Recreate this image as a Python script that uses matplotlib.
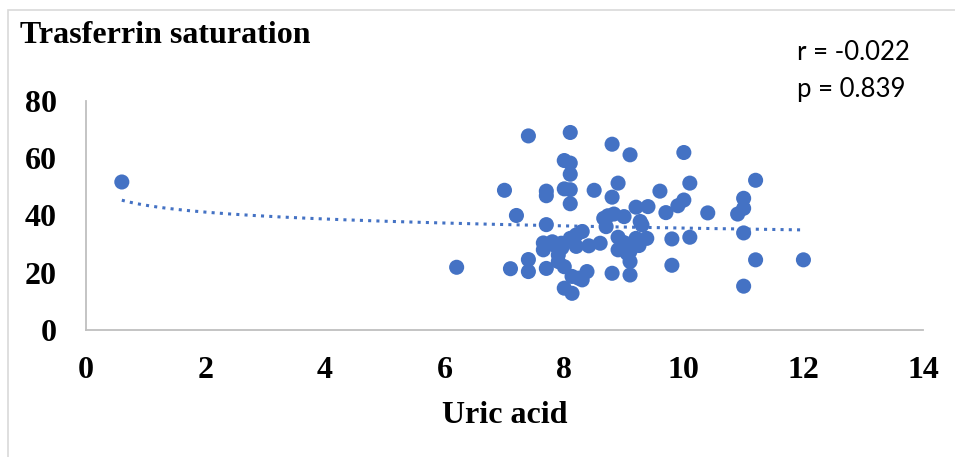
import numpy as np
import matplotlib.pyplot as plt
from matplotlib.patches import Rectangle

# Uric acid (x) vs transferrin saturation (y)
uric_acid = [
    0.6, 6.2, 7.0, 7.1, 7.2, 7.4, 7.4, 7.4, 7.65, 7.7,
    7.7, 7.7, 7.7, 7.8, 7.85, 7.65, 7.9, 7.9, 7.95, 7.96,
    8.0, 8.0, 8.0, 8.0, 8.1, 8.1, 8.1, 8.1, 8.1, 8.1,
    8.13, 8.13, 8.2, 8.2, 8.24, 8.3, 8.3, 8.38, 8.41, 8.5,
    8.6, 8.66, 8.7, 8.73, 8.8, 8.8, 8.83, 8.8, 8.9, 8.9,
    8.9, 9.0, 9.05, 9.1, 9.1, 9.1, 9.1, 9.2, 9.2, 9.27,
    9.3, 9.38, 9.4, 9.25, 9.0, 9.6, 9.7, 9.8, 9.8, 9.9,
    10.0, 10.0, 10.1, 10.1, 10.4, 10.9, 11.0, 11.0, 11.0, 11.0,
    11.2, 11.2, 12.0,
]
saturation = [
    51.7, 21.9, 48.8, 21.4, 40.0, 67.8, 24.6, 20.4, 30.4, 48.5,
    46.9, 36.8, 21.5, 30.8, 29.5, 28.0, 26.2, 23.9, 30.3, 28.7,
    59.2, 49.3, 22.1, 14.6, 69.0, 58.3, 54.4, 49.0, 44.1, 32.0,
    12.8, 18.7, 33.2, 29.2, 18.1, 34.4, 17.5, 20.4, 29.4, 48.8,
    30.3, 39.0, 36.1, 39.9, 64.9, 46.4, 40.5, 19.8, 51.3, 32.4,
    28.0, 39.6, 26.8, 61.2, 27.5, 23.9, 19.2, 42.9, 32.0, 37.9,
    36.7, 32.0, 43.1, 29.5, 30.5, 48.5, 41.0, 31.8, 22.6, 43.4,
    45.4, 62.0, 51.3, 32.4, 40.9, 40.5, 46.0, 42.5, 33.9, 15.3,
    52.3, 24.5, 24.5,
]

x_ticks = [0, 2, 4, 6, 8, 10, 12, 14]
y_ticks = [0, 20, 40, 60, 80]

blue = "#4472C4"
grey = "#BFBFBF"

fig = plt.figure(figsize=(9.55, 4.57), dpi=100)
ax = fig.add_axes([0.090, 0.278, 0.8765, 0.501])

ax.scatter(uric_acid, saturation, s=118, color=blue, edgecolors="none", zorder=3)

# logarithmic trendline fitted to the points
x = np.array(uric_acid)
y = np.array(saturation)
b, a = np.polyfit(np.log(x), y, 1)
xs = np.linspace(x.min(), x.max(), 200)
ax.plot(xs, a + b * np.log(xs), color=blue, lw=2.2,
        linestyle=(0, (1, 1.7)), zorder=2)

ax.set_xlim(0, 14)
ax.set_ylim(0, 80)
ax.set_xticks(x_ticks)
ax.set_yticks(y_ticks)
ax.tick_params(length=0, labelsize=23)
ax.tick_params(axis="x", pad=19)
ax.tick_params(axis="y", pad=21)
for lab in ax.get_xticklabels() + ax.get_yticklabels():
    lab.set_fontfamily("Liberation Serif")
    lab.set_fontweight("bold")

for side in ["top", "right"]:
    ax.spines[side].set_visible(False)
for side in ["left", "bottom"]:
    ax.spines[side].set_color(grey)
    ax.spines[side].set_linewidth(1.3)

serif = dict(family="Liberation Serif", weight="bold", fontsize=23)
fig.text(20 / 955, 1 - 43 / 457, "Trasferrin saturation", ha="left",
         va="baseline", **serif)
fig.text(504.5 / 955, 1 - 423 / 457, "Uric acid", ha="center",
         va="baseline", **serif)

fig.text(797 / 955, 1 - 60 / 457, "r = -0.022", ha="left", va="baseline",
         family="Lato", fontsize=18.5)
fig.text(797 / 955, 1 - 97 / 457, "p = 0.839", ha="left", va="baseline",
         family="Lato", fontsize=18.5)

# thin chart-area border
fig.patches.append(Rectangle((8 / 955, -0.1), 1.0, 1.1 - 10 / 457,
                             transform=fig.transFigure, fill=False,
                             edgecolor="#D9D9D9", lw=1.2))

plt.savefig("out.png", dpi=100)
